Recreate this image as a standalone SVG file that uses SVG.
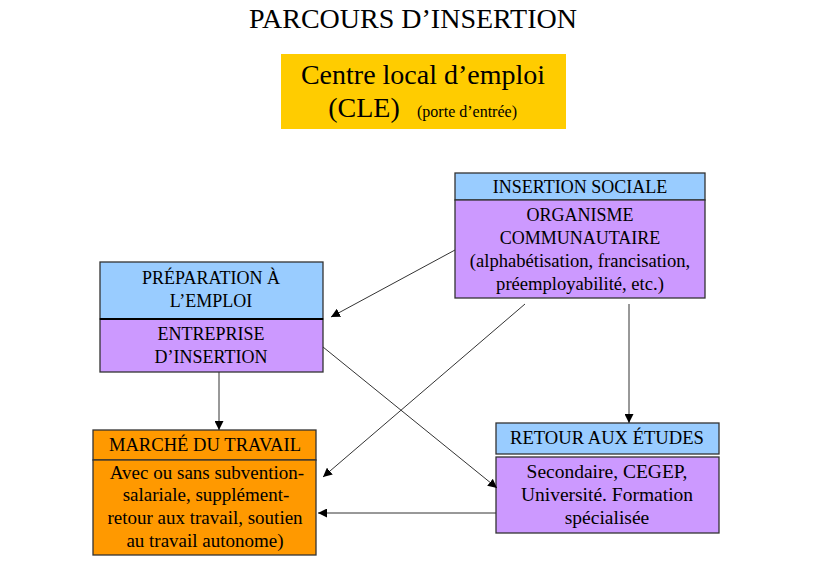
<svg xmlns="http://www.w3.org/2000/svg" width="830" height="567" viewBox="0 0 830 567">
<defs>
<style>
text{font-family:"Liberation Serif","Times New Roman",serif;fill:#000;text-anchor:middle}
.t{font-size:18px}
.m{font-size:18.6px}
.w{font-size:19.5px}
.mb{font-size:19px}
.box{stroke:#333;stroke-width:1.3}
.blue{fill:#99CCFF}.purple{fill:#CC99FF}.orange{fill:#FF9900}
.conn{stroke:#333;stroke-width:1;fill:none;marker-end:url(#ah)}
</style>
<marker id="ah" viewBox="0 0 10 10" refX="10" refY="5" markerWidth="9" markerHeight="9" markerUnits="userSpaceOnUse" orient="auto"><path d="M0,0L10,5L0,10z" fill="#000"/></marker>
</defs>
<rect width="830" height="567" fill="#fff"/>
<text x="413" y="28" style="font-size:28px">PARCOURS D’INSERTION</text>
<g id="cle">
<rect x="281" y="54" width="285" height="75" fill="#FFCC00"/>
<text x="423" y="84" style="font-size:28px">Centre local d’emploi</text>
<text x="364" y="117" style="font-size:28px">(CLE)</text>
<text x="467" y="117" style="font-size:16px">(porte d’entrée)</text>
</g>
<g id="insertion-sociale">
<rect class="box blue" x="455" y="173" width="250" height="27"/>
<rect class="box purple" x="455" y="200" width="250" height="98"/>
<text class="t" x="580" y="193">INSERTION SOCIALE</text>
<text class="t" x="580" y="221">ORGANISME</text>
<text class="t" x="580" y="244">COMMUNAUTAIRE</text>
<text class="m" x="580" y="267">(alphabétisation, francisation,</text>
<text class="m" x="580" y="290">préemployabilité, etc.)</text>
</g>
<g id="preparation">
<rect class="box blue" x="100" y="262" width="223" height="57"/>
<rect class="box purple" x="100" y="319" width="223" height="53"/>
<line x1="100" y1="319" x2="323" y2="319" stroke="#000" stroke-width="2"/>
<text class="t" x="211" y="284">PRÉPARATION À</text>
<text class="t" x="211" y="307">L’EMPLOI</text>
<text class="t" x="211" y="340">ENTREPRISE</text>
<text class="t" x="211" y="363">D’INSERTION</text>
</g>
<g id="marche">
<rect class="box orange" x="93" y="430" width="223" height="30"/>
<rect class="box orange" x="93" y="460" width="223" height="95"/>
<text class="m" x="205" y="451">MARCHÉ DU TRAVAIL</text>
<text class="mb" x="207" y="479">Avec ou sans subvention-</text>
<text class="mb" x="206" y="501">salariale, supplément-</text>
<text class="mb" x="205" y="524">retour aux travail, soutien</text>
<text class="mb" x="205" y="547">au travail autonome)</text>
</g>
<g id="retour">
<rect class="box blue" x="496" y="423" width="223" height="31"/>
<rect class="box purple" x="496" y="457" width="223" height="76"/>
<text class="m" x="607" y="444">RETOUR AUX ÉTUDES</text>
<text class="w" x="607" y="478">Secondaire, CEGEP,</text>
<text class="w" x="607" y="501">Université. Formation</text>
<text class="w" x="607" y="524">spécialisée</text>
</g>
<g id="connectors">
<line class="conn" x1="455" y1="250" x2="331" y2="317"/>
<line class="conn" x1="525" y1="304" x2="323" y2="477"/>
<line class="conn" x1="323" y1="347" x2="497" y2="488"/>
<line class="conn" x1="219" y1="372" x2="219" y2="430"/>
<line class="conn" x1="629" y1="304" x2="629" y2="423"/>
<line class="conn" x1="496" y1="513" x2="318" y2="513"/>
</g>
</svg>
